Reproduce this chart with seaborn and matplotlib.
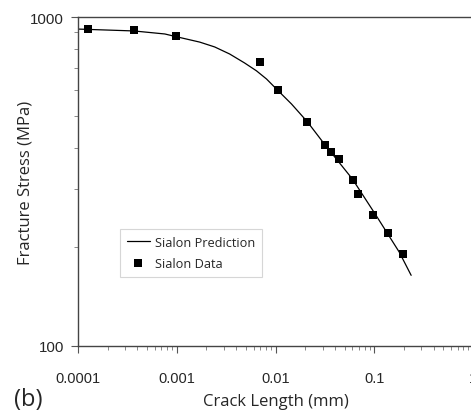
import numpy as np
import pandas as pd
import matplotlib
matplotlib.use("Agg")
import matplotlib.pyplot as plt
import seaborn as sns
from matplotlib.ticker import FixedLocator, LogLocator, NullFormatter

# crack length (mm) and fracture stress (MPa)
data_crack = [0.000126, 0.000368, 0.000977, 0.00689, 0.0107, 0.0210, 0.0320,
              0.0368, 0.0443, 0.0614, 0.0689, 0.0977, 0.138, 0.196]
data_stress = [919, 913, 875, 730, 600, 480, 408, 389, 370, 320, 290, 250, 221, 190]

pred_crack = [0.0001, 0.000368, 0.000757, 0.000977, 0.001706, 0.00242, 0.00343,
              0.00486, 0.00642, 0.00811, 0.01023, 0.01452, 0.02105, 0.03126,
              0.0600, 0.1047, 0.179, 0.2364]
pred_stress = [919, 907, 888, 872, 839, 811, 772, 725, 686, 648, 604, 544, 480,
               411, 322, 249, 193, 164]

x_ticks = [0.0001, 0.001, 0.01, 0.1, 1]
x_tick_labels = ["0.0001", "0.001", "0.01", "0.1", "1"]
y_ticks = [100, 1000]
y_tick_labels = ["100", "1000"]

pred = pd.DataFrame({"crack": pred_crack, "stress": pred_stress})
obs = pd.DataFrame({"crack": data_crack, "stress": data_stress})

sns.set_style("white")
plt.rcParams["font.family"] = ["Open Sans", "DejaVu Sans"]

fig = plt.figure(figsize=(4.71, 4.14), dpi=100)
ax = fig.add_axes([78 / 471, 1 - 347 / 414, 395 / 471, 329 / 414])

sns.lineplot(data=pred, x="crack", y="stress", ax=ax, color="black", lw=0.9,
             label="Sialon Prediction")
sns.scatterplot(data=obs, x="crack", y="stress", ax=ax, marker="s", color="black",
                s=26, edgecolor="black", linewidth=0, label="Sialon Data")

ax.set_xscale("log")
ax.set_yscale("log")
ax.set_xlim(0.0001, 1)
ax.set_ylim(100, 1000)

ax.xaxis.set_major_locator(FixedLocator(x_ticks))
ax.set_xticklabels(x_tick_labels, family=["Liberation Sans"], fontsize=10.5)
ax.xaxis.set_minor_locator(LogLocator(base=10, subs=np.arange(2, 10)))
ax.xaxis.set_minor_formatter(NullFormatter())
ax.yaxis.set_major_locator(FixedLocator(y_ticks))
ax.set_yticklabels(y_tick_labels, family=["Liberation Sans"], fontsize=10.8)
ax.yaxis.set_minor_locator(LogLocator(base=10, subs=np.arange(2, 10)))
ax.yaxis.set_minor_formatter(NullFormatter())

ax.tick_params(which="both", bottom=True, left=True, top=False, right=False)
ax.tick_params(which="major", direction="out", length=5, width=0.8, color="#555555")
ax.tick_params(which="minor", direction="out", length=3, width=0.7, color="#888888")
ax.tick_params(axis="x", which="major", pad=13)
ax.tick_params(axis="y", which="major", pad=5)

for sp in ax.spines.values():
    sp.set_color("#444444")
    sp.set_linewidth(1.0)

ax.set_xlabel("Crack Length (mm)", fontsize=12, labelpad=6)
ax.set_ylabel("Fracture Stress (MPa)", fontsize=12, labelpad=-2.5)

leg = ax.legend(loc="upper left", bbox_to_anchor=(0.106, 0.356), fancybox=False,
                frameon=True, fontsize=9.2, handlelength=1.8, borderpad=0.55,
                labelspacing=0.6, handletextpad=0.4, borderaxespad=0)
leg.get_frame().set_edgecolor("#cccccc")
leg.get_frame().set_linewidth(0.8)

fig.text(14 / 471, 2 / 414, "(b)", fontsize=17, va="bottom")

fig.savefig("out.png", dpi=100)
